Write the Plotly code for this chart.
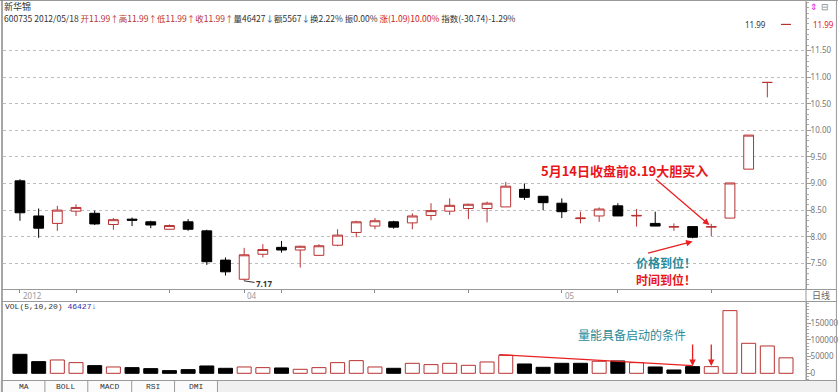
import plotly.graph_objects as go

# ---------------- data ----------------
dates = ["2012-03-14", "2012-03-15", "2012-03-16", "2012-03-19", "2012-03-20", "2012-03-21",
         "2012-03-22", "2012-03-23", "2012-03-26", "2012-03-27", "2012-03-28", "2012-03-29",
         "2012-04-05", "2012-04-06", "2012-04-09", "2012-04-10", "2012-04-11", "2012-04-12",
         "2012-04-13", "2012-04-16", "2012-04-17", "2012-04-18", "2012-04-19", "2012-04-20",
         "2012-04-23", "2012-04-24", "2012-04-25", "2012-04-26", "2012-04-27", "2012-05-02",
         "2012-05-03", "2012-05-04", "2012-05-07", "2012-05-08", "2012-05-09", "2012-05-10",
         "2012-05-11", "2012-05-14", "2012-05-15", "2012-05-16", "2012-05-17", "2012-05-18"]
opens = [9.05, 8.39, 8.25, 8.48, 8.44, 8.23, 8.33, 8.28, 8.14, 8.28, 8.11, 7.56,
         7.20, 7.67, 7.80, 7.75, 7.65, 7.84, 8.08, 8.20, 8.28, 8.26, 8.40, 8.48,
         8.53, 8.53, 8.56, 8.89, 8.76, 8.63, 8.34, 8.39, 8.58, 8.39, 8.25, 8.18,
         8.19, 8.18, 8.35, 9.27, 10.90, 11.99]
highs = [9.08, 8.53, 8.58, 8.61, 8.49, 8.35, 8.36, 8.30, 8.23, 8.33, 8.13, 7.61,
         7.79, 7.86, 7.92, 7.83, 7.86, 8.14, 8.30, 8.35, 8.30, 8.44, 8.63, 8.72,
         8.62, 8.66, 9.03, 9.00, 8.76, 8.72, 8.47, 8.55, 8.63, 8.52, 8.47, 8.25,
         8.19, 8.24, 9.01, 9.91, 10.90, 11.99]
lows = [8.30, 7.98, 8.11, 8.39, 8.22, 8.13, 8.20, 8.16, 8.13, 8.11, 7.47, 7.27,
        7.17, 7.61, 7.70, 7.42, 7.64, 7.82, 7.99, 8.14, 8.15, 8.14, 8.31, 8.41,
        8.33, 8.27, 8.56, 8.69, 8.50, 8.35, 8.25, 8.28, 8.39, 8.19, 8.20, 8.11,
        7.97, 8.01, 8.35, 9.27, 10.62, 11.99]
closes = [8.45, 8.16, 8.50, 8.55, 8.24, 8.32, 8.31, 8.22, 8.21, 8.14, 7.53, 7.34,
          7.66, 7.76, 7.75, 7.82, 7.83, 8.03, 8.28, 8.30, 8.18, 8.39, 8.49, 8.59,
          8.61, 8.63, 8.95, 8.74, 8.64, 8.47, 8.35, 8.52, 8.39, 8.40, 8.20, 8.19,
          7.99, 8.19, 9.01, 9.91, 10.90, 11.99]
volumes = [57000, 35000, 40000, 32000, 23000, 19000, 17000, 14000, 8000, 11000, 22000, 15000,
           19000, 17000, 16000, 12000, 17000, 32000, 38000, 19000, 15000, 30000, 26000, 30000,
           24000, 34000, 54000, 28000, 18000, 30000, 30000, 36000, 37000, 32000, 19000, 10000,
           20000, 20000, 188000, 90000, 82000, 46427]

price_ticks = [7.5, 8.0, 8.5, 9.0, 9.5, 10.0, 10.5, 11.0, 11.5]
vol_ticks = [0, 50000, 100000, 150000]
date_tick_dates = ["2012-03-14", "2012-03-19", "2012-03-26", "2012-04-05", "2012-04-09",
                   "2012-04-16", "2012-04-23", "2012-05-02", "2012-05-07", "2012-05-14"]
date_tick_labels = {"2012-03-14": "2012", "2012-04-05": "04", "2012-05-02": "05"}
tab_labels = ["MA", "BOLL", "MACD", "RSI", "DMI"]

# ---------------- styling ----------------
RED = "#b83232"
TEAL = "#2a8a98"
BRIGHT_RED = "#e8161b"
GRAY = "#777777"
W, H = 840, 392
ML, MR, MT, MB = 3, 32, 2, 12
PW, PH = W - ML - MR, H - MT - MB


def px(x):
    return (x - ML) / PW


def py(y):
    return (H - MB - y) / PH


n = len(dates)
idx = {d: i for i, d in enumerate(dates)}
vol_up = [closes[0] >= opens[0]] + [closes[i] >= closes[i - 1] for i in range(1, n)]

fig = go.Figure()
fig.add_trace(go.Candlestick(
    x=dates, open=opens, high=highs, low=lows, close=closes,
    increasing=dict(line=dict(color=RED, width=1), fillcolor="white"),
    decreasing=dict(line=dict(color="black", width=1), fillcolor="black"),
    whiskerwidth=0, xaxis="x", yaxis="y", showlegend=False, hoverinfo="skip"))
fig.add_trace(go.Bar(
    x=dates, y=volumes, width=0.75,
    marker=dict(color=["white" if u else "black" for u in vol_up],
                line=dict(color=[RED if u else "black" for u in vol_up], width=1)),
    xaxis="x2", yaxis="y2", showlegend=False, hoverinfo="skip"))

xr = [-0.9077, 42.07]
price_dom = [py(289), 1]
vol_dom = [0, py(301)]

axis_font = dict(size=8, color=GRAY, family="Noto Sans, sans-serif")
fig.update_layout(
    width=W, height=H, margin=dict(l=ML, r=MR, t=MT, b=MB),
    paper_bgcolor="white", plot_bgcolor="white", boxgap=0.25,
    font=dict(family="Noto Sans CJK SC, Noto Sans, sans-serif", size=9, color="#333"),
    hovermode=False, showlegend=False,
    xaxis=dict(type="category", categoryarray=dates, range=xr, domain=[0, 1], anchor="y",
               rangeslider=dict(visible=False), showgrid=False, zeroline=False,
               showticklabels=False, tickvals=date_tick_dates, ticks="outside",
               ticklen=3, tickcolor="#888", showline=False),
    yaxis=dict(domain=price_dom, range=[7.017, 12.412], side="right", anchor="x",
               tickvals=price_ticks, ticktext=[f"{v:.2f}" for v in price_ticks],
               tickfont=axis_font, ticklabelstandoff=-2,
               ticks="outside", ticklen=4, tickcolor="#999",
               showline=True, linecolor="#999", linewidth=1,
               showgrid=True, gridcolor="#bdbdbd", griddash="dot", gridwidth=1,
               zeroline=False,
               minor=dict(dtick=0.1, tick0=7.0, ticks="outside", ticklen=2,
                          tickcolor="#aaa", showgrid=False)),
    xaxis2=dict(type="category", categoryarray=dates, range=xr, domain=[0, 1], anchor="y2",
                showgrid=False, zeroline=False, showticklabels=False, ticks="",
                showline=False),
    yaxis2=dict(domain=vol_dom, range=[-20100, 216900], side="right", anchor="x2",
                tickvals=vol_ticks, ticktext=[str(v) for v in vol_ticks],
                tickfont=axis_font, ticklabelstandoff=-2,
                ticks="outside", ticklen=4, tickcolor="#999",
                showline=True, linecolor="#999", linewidth=1,
                showgrid=False, zeroline=False,
                minor=dict(dtick=10000, tick0=0, ticks="outside", ticklen=2,
                           tickcolor="#aaa", showgrid=False)),
)

# ---------------- frame lines ----------------
shapes = []


def pline(x0, y0, x1, y1, color="#999", width=1):
    shapes.append(dict(type="line", xref="paper", yref="paper",
                       x0=px(x0), y0=py(y0), x1=px(x1), y1=py(y1),
                       line=dict(color=color, width=width)))


shapes.append(dict(type="rect", xref="paper", yref="paper", x0=px(0), x1=px(840),
                   y0=py(392), y1=py(380.5), fillcolor="#f0f0f0", line=dict(width=0),
                   layer="below"))
shapes.append(dict(type="rect", xref="paper", yref="paper", x0=px(2), x1=px(218),
                   y0=py(392), y1=py(380.5), fillcolor="#fbfbfb", line=dict(width=0),
                   layer="below"))
pline(0, 0.5, 840, 0.5)
pline(2, 0, 2, 392, "#888", 1.5)
pline(838.5, 0, 838.5, 392)
pline(808, 0, 808, 380.5)
pline(2, 289.5, 838.5, 289.5)
pline(2, 301.5, 838.5, 301.5)
pline(2, 380.5, 838.5, 380.5)
for sx in [45, 88, 132, 175, 218]:
    pline(sx, 380.5, sx, 392)
fig.update_layout(shapes=shapes)

# volume trend line
fig.add_shape(type="line", xref="x2", yref="y2",
              x0=idx["2012-04-25"] - 0.35, y0=56000, x1=idx["2012-05-11"], y1=23000,
              line=dict(color="#e82020", width=1.3))

# ---------------- texts ----------------
ann = []


def ptext(x, y, text, size=9, color="#333", xanchor="left", family=None, bold=False):
    f = dict(size=size, color=color)
    if family:
        f["family"] = family
    if bold:
        text = "<b>" + text + "</b>"
    ann.append(dict(xref="paper", yref="paper", x=px(x), y=py(y), text=text,
                    showarrow=False, xanchor=xanchor, yanchor="middle", font=f))


def span(t, c):
    return f'<span style="color:{c}">{t}</span>'


DARK = "#333333"
BLUE = "#2040a0"
header = (span("600735 2012/05/18 ", DARK)
          + span("开11.99↑", RED) + span("高11.99↑", RED) + span("低11.99↑", RED)
          + span("收11.99↑", RED) + span("量46427", DARK) + span("↓", BLUE)
          + span("额5567", DARK) + span("↓", BLUE) + span("换2.22% ", DARK)
          + span("振0.00% ", DARK) + span("涨(1.09)10.00% ", "#d02020")
          + span("指数(-30.74)-1.29%", DARK))
ptext(2, 6.5, "新华锦", size=9)
ptext(2, 18, header, size=8.5)
ptext(810, 6.5, "⇕", size=9, color="#e020e0")
ptext(821, 6.5, "⊟", size=9, color="#888")
ptext(813, 25, "11.99", size=8, color="#e02020", family="Noto Sans, sans-serif")
ptext(823, 295.5, "日线", size=9, color="#666", xanchor="center")
ptext(3, 306, "VOL(5,10,20) " + span("46427", "#3030b0") + span("↓", "#3030b0"),
      size=8, family="Liberation Mono, monospace")
for lab, cx in zip(tab_labels, [24, 66, 110, 153, 196]):
    ptext(cx, 386.5, lab, size=8, xanchor="center", family="Liberation Mono, monospace")

for d, lab in date_tick_labels.items():
    ann.append(dict(xref="x", yref="paper", x=idx[d], y=py(295.5), text=lab,
                    showarrow=False, xanchor="left", yanchor="middle", xshift=1,
                    font=dict(size=8, color="#999", family="Noto Sans, sans-serif")))

# price labels
ann.append(dict(xref="x", yref="y", x=idx["2012-05-18"], y=highs[-1], text="11.99",
                showarrow=False, xanchor="right", yanchor="middle", xshift=-18,
                font=dict(size=8, color="#333", family="Noto Sans, sans-serif")))
ann.append(dict(xref="x", yref="y", x=idx["2012-04-05"], y=min(lows), text="<b>7.17</b>",
                showarrow=True, arrowhead=0, arrowwidth=1, arrowcolor="#333",
                ax=20, ay=3, font=dict(size=8, color="#333", family="Noto Sans, sans-serif")))

# big annotations
ptext(626, 170, "5月14日收盘前8.19大胆买入", size=13, color=BRIGHT_RED,
      xanchor="center", bold=True)
ptext(668, 262, "价格到位！", size=12, color=TEAL, xanchor="center", bold=True)
ptext(668, 279.5, "时间到位！", size=12, color=BRIGHT_RED, xanchor="center", bold=True)
ptext(634, 334, "量能具备启动的条件", size=12, color=TEAL, xanchor="center")

ann.append(dict(xref="x", yref="y", x=idx["2012-05-14"] - 0.1, y=8.22, text="",
                showarrow=True, arrowhead=2, arrowsize=1, arrowwidth=1.3,
                arrowcolor="#e82020", ax=-55, ay=-47))
ann.append(dict(xref="x", yref="y", x=idx["2012-05-11"], y=7.91, text="",
                showarrow=True, arrowhead=2, arrowsize=1, arrowwidth=1.3,
                arrowcolor="#e82020", ax=-46, ay=12))
for d in ["2012-05-11", "2012-05-14"]:
    ann.append(dict(xref="x2", yref="y2", x=idx[d], y=22000, text="",
                    showarrow=True, arrowhead=2, arrowsize=1, arrowwidth=1.3,
                    arrowcolor="#e82020", ax=0, ay=-23))

fig.update_layout(annotations=ann)
fig.write_html("out.html", config={"displayModeBar": False},
               post_script="document.body.style.margin='0';")
